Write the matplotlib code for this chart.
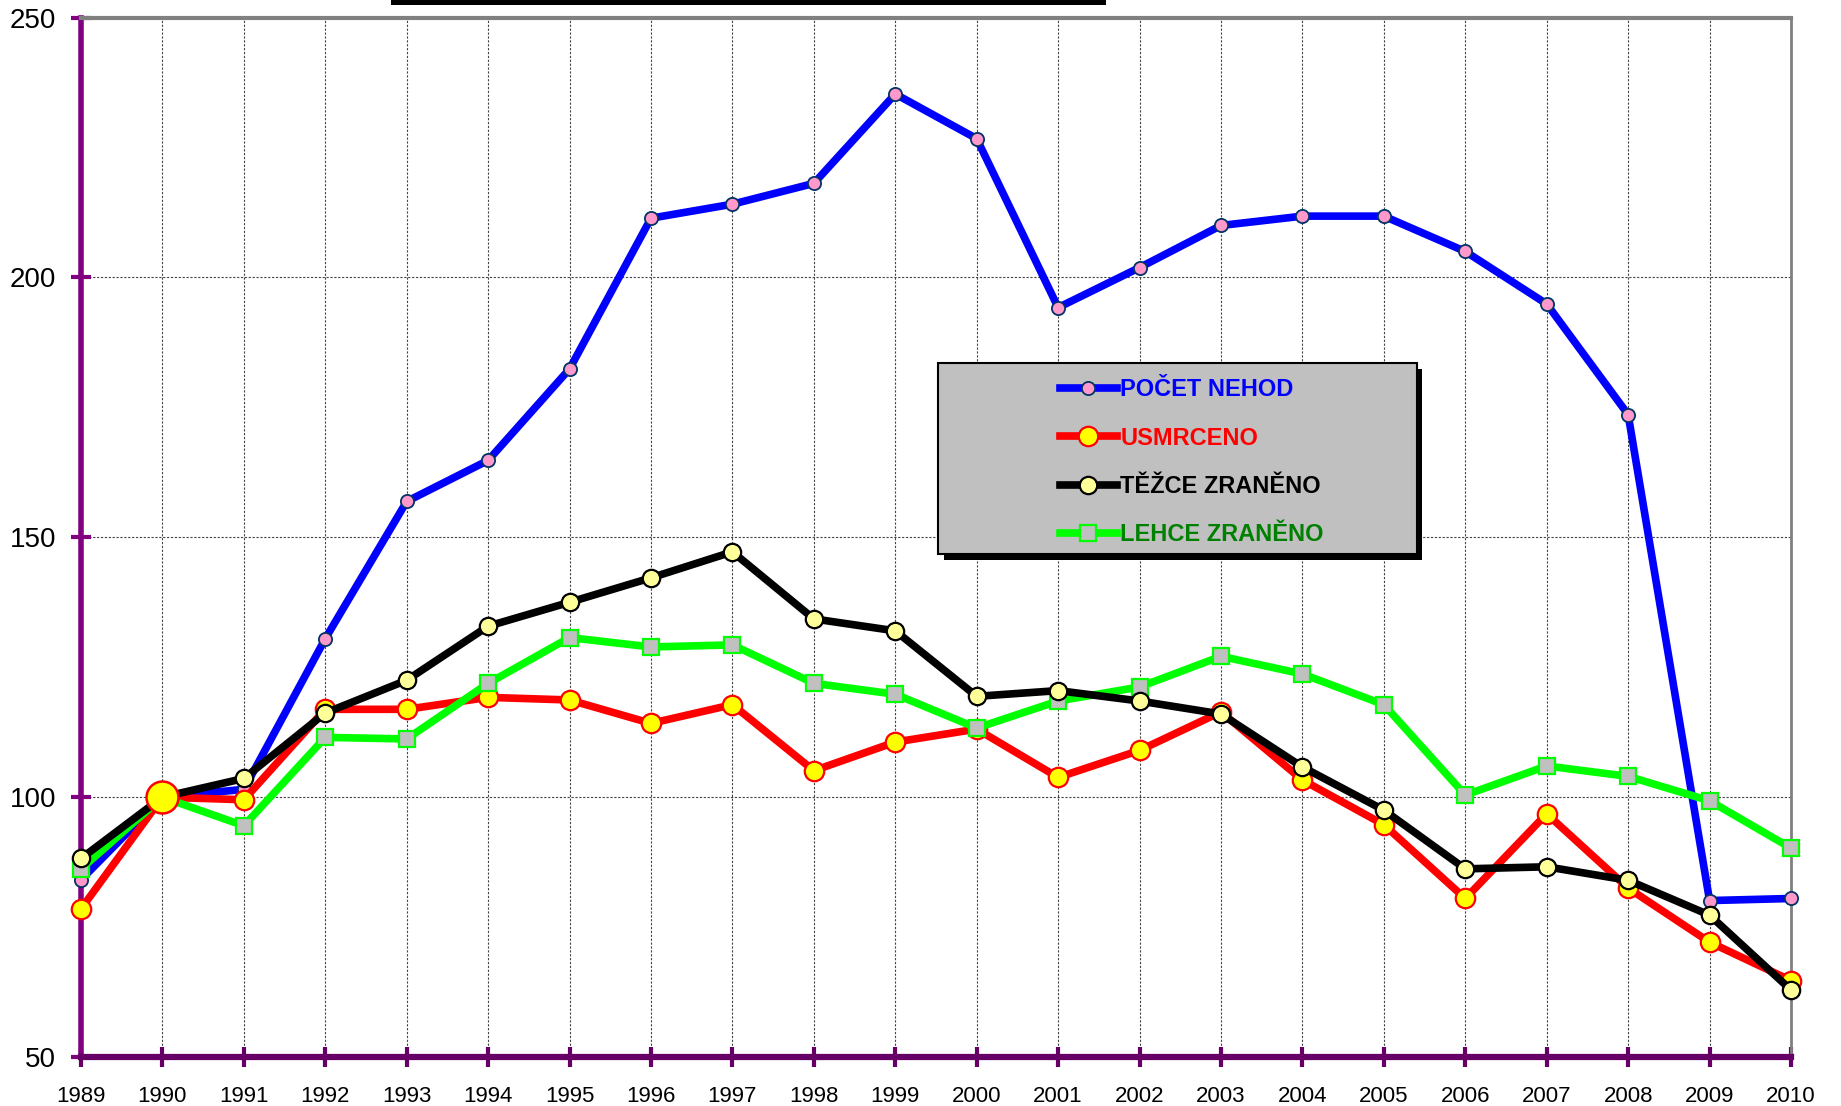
import matplotlib
matplotlib.use("Agg")
import matplotlib.pyplot as plt
from matplotlib.patches import Rectangle

years = list(range(1989, 2011))
pocet_nehod = [84.1, 100, 101.5, 130.5, 156.9, 164.8, 182.4, 211.4, 214.1, 218.1, 235.3,
               226.7, 194.2, 201.9, 210.0, 211.8, 211.8, 205.0, 194.9, 173.6, 80.1, 80.5]
usmrceno = [78.5, 100, 99.5, 116.9, 116.9, 119.2, 118.7, 114.2, 117.8, 105.1, 110.6,
            113.1, 103.8, 109.0, 116.4, 103.3, 94.7, 80.5, 96.8, 82.5, 72.1, 64.7]
tezce = [88.2, 100, 103.6, 116.2, 122.5, 132.9, 137.5, 142.2, 147.2, 134.3, 132.0,
         119.4, 120.5, 118.5, 116.0, 105.8, 97.5, 86.2, 86.6, 84.0, 77.3, 62.9]
lehce = [86.2, 100, 94.5, 111.5, 111.2, 121.9, 130.7, 128.9, 129.3, 121.9, 119.8,
         113.3, 118.5, 121.2, 127.1, 123.7, 117.8, 100.4, 106.0, 104.0, 99.3, 90.2]
labels = ["POČET NEHOD", "USMRCENO", "TĚŽCE ZRANĚNO", "LEHCE ZRANĚNO"]
yticks = [50, 100, 150, 200, 250]

plt.rcParams['font.family'] = ['Liberation Sans', 'DejaVu Sans']

fig = plt.figure(figsize=(18.41, 11.06), dpi=100)
ax = fig.add_axes([81/1841, 1-1057/1106, 1710/1841, 1039.4/1106])

lw = 5.5
l_blue, = ax.plot(years, pocet_nehod, color='#0000FF', lw=lw, marker='o', ms=9.5,
                  mfc='#FF99CC', mec='#003366', mew=1.3, zorder=3, clip_on=False)
l_red, = ax.plot(years, usmrceno, color='#FF0000', lw=lw, marker='o', ms=14,
                 mfc='#FFFF00', mec='#FF0000', mew=1.6, zorder=4, clip_on=False)
ax.plot(years[1:2], usmrceno[1:2], ls='none', marker='o', ms=23,
        mfc='#FFFF00', mec='#FF0000', mew=1.8, zorder=8, clip_on=False)
l_green, = ax.plot(years, lehce, color='#00FF00', lw=lw, marker='s', ms=11,
                   mfc='#C0C0C0', mec='#00FF00', mew=1.6, zorder=5, clip_on=False)
l_black, = ax.plot(years, tezce, color='#000000', lw=lw, marker='o', ms=12.5,
                   mfc='#FFFF99', mec='#000000', mew=1.6, zorder=6, clip_on=False)

ax.set_xlim(1989, 2010)
ax.set_ylim(50, 250)
ax.set_xticks(years)
ax.set_yticks(yticks)
ax.grid(True, color='#444444', ls=(0, (2, 1.5)), lw=0.8, zorder=1)

for s in ['top', 'right']:
    ax.spines[s].set_color('#808080')
ax.spines['top'].set_linewidth(3)
ax.spines['right'].set_linewidth(2)
ax.spines['left'].set_color('#800080')
ax.spines['left'].set_linewidth(4)
ax.spines['bottom'].set_color('#660066')
ax.spines['bottom'].set_linewidth(4.5)
for s in ax.spines.values():
    s.set_zorder(2)

ax.tick_params(axis='y', direction='inout', length=14, width=3, color='#800080',
               labelsize=20, pad=11)
ax.tick_params(axis='x', direction='inout', length=14, width=3, color='#660066',
               labelsize=16, pad=14)

# legend box with shadow
bx, by, bw, bh = 0.501, 0.484, 0.280, 0.184
ax.add_patch(Rectangle((bx + 0.0035, by - 0.0058), bw, bh, transform=ax.transAxes,
                       fc='black', ec='black', lw=0, zorder=9))
ax.add_patch(Rectangle((bx, by), bw, bh, transform=ax.transAxes,
                       fc='#C0C0C0', ec='black', lw=1.5, zorder=10))
leg = ax.legend([l_blue, l_red, l_black, l_green], labels,
                loc='upper left', bbox_to_anchor=(0.5725, 0.653), frameon=False,
                borderpad=0, borderaxespad=0, handlelength=2.4, handletextpad=0.15,
                labelspacing=1.07, prop={'size': 17, 'weight': 'bold'},
                labelcolor=['#0000FF', '#FF0000', '#000000', '#008000'])
leg.set_zorder(11)

# top black bar (clipped title box)
fig.add_artist(Rectangle((391/1841, 1 - 5/1106), (1106-391)/1841, 5/1106,
                         transform=fig.transFigure, fc='black', ec='none'))

fig.savefig('out.png', dpi=100)
